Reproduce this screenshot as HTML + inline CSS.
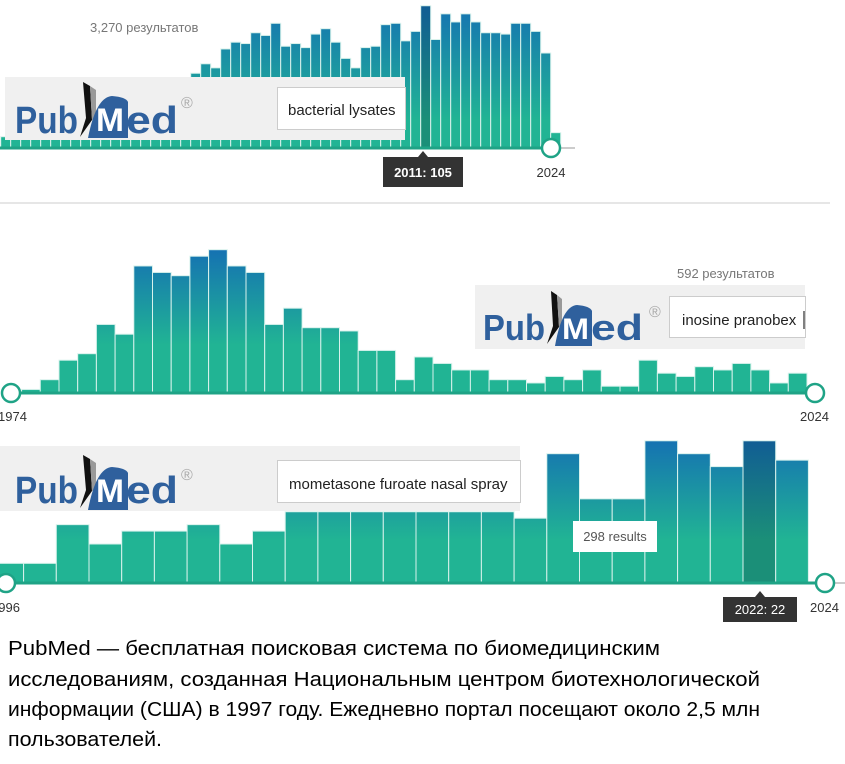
<!DOCTYPE html>
<html><head><meta charset="utf-8"><style>
html,body{margin:0;padding:0;background:#fff;}
svg{display:block;font-family:"Liberation Sans","DejaVu Sans",sans-serif;}
</style></head><body>
<svg id="root" width="845" height="764" viewBox="0 0 845 764" xmlns="http://www.w3.org/2000/svg">
<defs>
<linearGradient id="g1" gradientUnits="userSpaceOnUse" x1="0" y1="5" x2="0" y2="120"><stop offset="0" stop-color="#1572b2"/><stop offset="1" stop-color="#21b494"/></linearGradient>
<linearGradient id="g1h" gradientUnits="userSpaceOnUse" x1="0" y1="5" x2="0" y2="120"><stop offset="0" stop-color="#115d94"/><stop offset="1" stop-color="#1b8f78"/></linearGradient>
<linearGradient id="g2" gradientUnits="userSpaceOnUse" x1="0" y1="250" x2="0" y2="345"><stop offset="0" stop-color="#1572b2"/><stop offset="1" stop-color="#21b494"/></linearGradient>
<linearGradient id="g3" gradientUnits="userSpaceOnUse" x1="0" y1="440" x2="0" y2="540"><stop offset="0" stop-color="#1572b2"/><stop offset="1" stop-color="#21b494"/></linearGradient>
<linearGradient id="g3h" gradientUnits="userSpaceOnUse" x1="0" y1="440" x2="0" y2="540"><stop offset="0" stop-color="#115d94"/><stop offset="1" stop-color="#1b8f78"/></linearGradient>
</defs>
<g id="bars1"></g>
<g id="bars2"></g>
<g id="bars3"></g>

<text x="90" y="32" font-size="13" fill="#777">3,270 результатов</text>
<line x1="0" y1="148" x2="545" y2="148" stroke="#1fa386" stroke-width="3"/>
<line x1="560" y1="148" x2="575" y2="148" stroke="#ccc" stroke-width="2"/>
<circle cx="551" cy="148" r="9" fill="#fff" stroke="#1fa386" stroke-width="2.5"/>
<text x="551" y="177" font-size="13" fill="#333" text-anchor="middle">2024</text>
<g>
<polygon points="418,157 423,151 428,157" fill="#333"/>
<rect x="383" y="157" width="80" height="30" fill="#333"/>
<text x="423" y="177" font-size="13" font-weight="bold" fill="#fff" text-anchor="middle">2011: 105</text>
</g>
<g>
<rect x="5" y="77" width="400" height="63" fill="#f0f0f0"/>
<g>
<text x="15" y="133" font-size="38" font-weight="bold" fill="#2f609d" textLength="63" lengthAdjust="spacingAndGlyphs">Pub</text>
<polygon points="83,82 90,86 92,120 80,137 86,118" fill="#111"/>
<polygon points="90,86 96,90 96,118 92,120" fill="#999"/>
<path d="M88,138 Q96,97 112,96 Q126,97 128,102 L128,138 Z" fill="#2f609d"/>
<text x="96" y="131" font-size="32" font-weight="bold" fill="#fff" textLength="28" lengthAdjust="spacingAndGlyphs">M</text>
<text x="126" y="133" font-size="38" font-weight="bold" fill="#2f609d" textLength="52" lengthAdjust="spacingAndGlyphs">ed</text>
<text x="181" y="108" font-size="16" fill="#aaa">®</text>
</g>
<rect x="277.5" y="87.5" width="128" height="42" fill="#fff" stroke="#ccc"/>
<text x="288" y="115" font-size="15" fill="#222">bacterial lysates</text>
</g>
<line x1="0" y1="203" x2="830" y2="203" stroke="#e6e6e6" stroke-width="2"/>

<line x1="18" y1="393" x2="806" y2="393" stroke="#1fa386" stroke-width="3"/>
<circle cx="11" cy="393" r="9" fill="#fff" stroke="#1fa386" stroke-width="2.5"/>
<circle cx="815" cy="393" r="9" fill="#fff" stroke="#1fa386" stroke-width="2.5"/>
<text x="-2" y="421" font-size="13" fill="#333">1974</text>
<text x="800" y="421" font-size="13" fill="#333">2024</text>
<rect x="672" y="262" width="118" height="22" fill="#fff"/>
<text x="677" y="278" font-size="13" fill="#777">592 результатов</text>
<g>
<rect x="475" y="285" width="330" height="64" fill="#f0f0f0"/>
<g>
<text x="483" y="340" font-size="36" font-weight="bold" fill="#2f609d" textLength="62" lengthAdjust="spacingAndGlyphs">Pub</text>
<polygon points="551,291 557,295 559,327 547,344 553,326" fill="#111"/>
<polygon points="557,295 562,299 562,326 559,327" fill="#999"/>
<path d="M555,346 Q562,306 577,305 Q590,306 592,311 L592,346 Z" fill="#2f609d"/>
<text x="562" y="339" font-size="30" font-weight="bold" fill="#fff" textLength="27" lengthAdjust="spacingAndGlyphs">M</text>
<text x="591" y="340" font-size="36" font-weight="bold" fill="#2f609d" textLength="52" lengthAdjust="spacingAndGlyphs">ed</text>
<text x="649" y="317" font-size="16" fill="#aaa">®</text>
</g>
<rect x="669.5" y="296.5" width="136" height="41" fill="#fff" stroke="#ccc"/>
<text x="682" y="325" font-size="15" fill="#222">inosine pranobex</text>
<line x1="804" y1="311" x2="804" y2="329" stroke="#000"/>
</g>

<line x1="0" y1="583" x2="818" y2="583" stroke="#1fa386" stroke-width="3"/>
<line x1="834" y1="583" x2="845" y2="583" stroke="#ccc" stroke-width="2"/>
<circle cx="6" cy="583" r="9" fill="#fff" stroke="#1fa386" stroke-width="2.5"/>
<circle cx="825" cy="583" r="9" fill="#fff" stroke="#1fa386" stroke-width="2.5"/>
<text x="-9" y="612" font-size="13" fill="#333">1996</text>
<text x="810" y="612" font-size="13" fill="#333">2024</text>
<g>
<rect x="573" y="521" width="84" height="31" fill="#fff"/>
<text x="615" y="541" font-size="13" fill="#555" text-anchor="middle">298 results</text>
</g>
<g>
<polygon points="755,597 760,591 765,597" fill="#333"/>
<rect x="723" y="597" width="74" height="25" fill="#333"/>
<text x="760" y="614" font-size="13" fill="#fff" text-anchor="middle">2022: 22</text>
</g>
<g>
<rect x="0" y="446" width="520" height="65" fill="#f0f0f0"/>
<g>
<text x="15" y="503" font-size="38" font-weight="bold" fill="#2f609d" textLength="63" lengthAdjust="spacingAndGlyphs">Pub</text>
<polygon points="83,455 90,459 92,491 80,508 86,490" fill="#111"/>
<polygon points="90,459 96,463 96,490 92,491" fill="#999"/>
<path d="M88,510 Q96,468 112,467 Q126,468 128,473 L128,510 Z" fill="#2f609d"/>
<text x="96" y="502" font-size="32" font-weight="bold" fill="#fff" textLength="28" lengthAdjust="spacingAndGlyphs">M</text>
<text x="126" y="503" font-size="38" font-weight="bold" fill="#2f609d" textLength="52" lengthAdjust="spacingAndGlyphs">ed</text>
<text x="181" y="480" font-size="16" fill="#aaa">®</text>
</g>
<rect x="277.5" y="460.5" width="243" height="42" fill="#fff" stroke="#ccc"/>
<text x="289" y="489" font-size="15" fill="#222">mometasone furoate nasal spray</text>
</g>

<g font-size="20" fill="#000">
<text x="8" y="655" textLength="652" lengthAdjust="spacingAndGlyphs">PubMed — бесплатная поисковая система по биомедицинским</text>
<text x="8" y="686" textLength="752" lengthAdjust="spacingAndGlyphs">исследованиям, созданная Национальным центром биотехнологической</text>
<text x="8" y="716" textLength="752" lengthAdjust="spacingAndGlyphs">информации (США) в 1997 году. Ежедневно портал посещают около 2,5 млн</text>
<text x="8" y="746" textLength="154" lengthAdjust="spacingAndGlyphs">пользователей.</text>
</g>
</svg>
<script>
var years1 = [1969,1970,1971,1972,1973,1974,1975,1976,1977,1978,1979,1980,1981,1982,1983,1984,1985,1986,1987,1988,1989,1990,1991,1992,1993,1994,1995,1996,1997,1998,1999,2000,2001,2002,2003,2004,2005,2006,2007,2008,2009,2010,2011,2012,2013,2014,2015,2016,2017,2018,2019,2020,2021,2022,2023,2024];
var counts1 = [8,6,6,6,6,6,6,6,6,6,6,6,6,6,6,6,6,6,6,55,62,59,73,78,77,85,83,92,75,77,74,84,88,78,66,59,74,75,91,92,79,86,105,80,99,93,99,93,85,85,84,92,92,86,70,11];
var highlight1 = 2011;

var years2 = [1983,1984,1985,1986,1987,1988,1989,1990,1991,1992,1993,1994,1995,1996,1997,1998,1999,2000,2001,2002,2003,2004,2005,2006,2007,2008,2009,2010,2011,2012,2013,2014,2015,2016,2017,2018,2019,2020,2021,2022,2023,2024];
var counts2 = [1,4,10,12,21,18,39,37,36,42,44,39,37,21,26,20,20,19,13,13,4,11,9,7,7,4,4,3,5,4,7,2,2,10,6,5,8,7,9,7,3,6];

var years3 = [1999,2000,2001,2002,2003,2004,2005,2006,2007,2008,2009,2010,2011,2012,2013,2014,2015,2016,2017,2018,2019,2020,2021,2022,2023];
var counts3 = [3,3,9,6,8,8,9,6,8,11,11,11,11,11,11,11,10,20,13,13,22,20,18,22,19];
var highlight3 = 2022;

var NS = "http://www.w3.org/2000/svg";
function x1(y){ return 190.7 + (y - 1988) * 10; }
function y1(v){ return 147.5 - v * 1.35; }
function x2(y){ return 21.6 + (y - 1983) * 18.7; }
function y2(v){ return 392.7 - v * 3.25; }
function x3(y){ return 743 + (y - 2022) * 32.7; }
function y3(v){ return 582.7 - v * 6.45; }

function draw(gid, years, counts, xs, ys, w, base, fill, hfill, hl){
  var g = document.getElementById(gid);
  for (var i = 0; i < years.length; i++){
    var r = document.createElementNS(NS, "rect");
    var top = ys(counts[i]);
    r.setAttribute("x", xs(years[i]));
    r.setAttribute("y", top);
    r.setAttribute("width", w);
    r.setAttribute("height", Math.max(0, base - top));
    r.setAttribute("fill", years[i] === hl ? hfill : fill);
    r.setAttribute("stroke", "#d8f2ec");
    r.setAttribute("stroke-width", "1");
    
    
    g.appendChild(r);
  }
}
draw("bars1", years1, counts1, x1, y1, 10, 147.5, "url(#g1)", "url(#g1h)", highlight1);
draw("bars2", years2, counts2, x2, y2, 18.7, 392.7, "url(#g2)", "url(#g2)", null);
draw("bars3", years3, counts3, x3, y3, 32.7, 582.7, "url(#g3)", "url(#g3h)", highlight3);
</script>
</body></html>
